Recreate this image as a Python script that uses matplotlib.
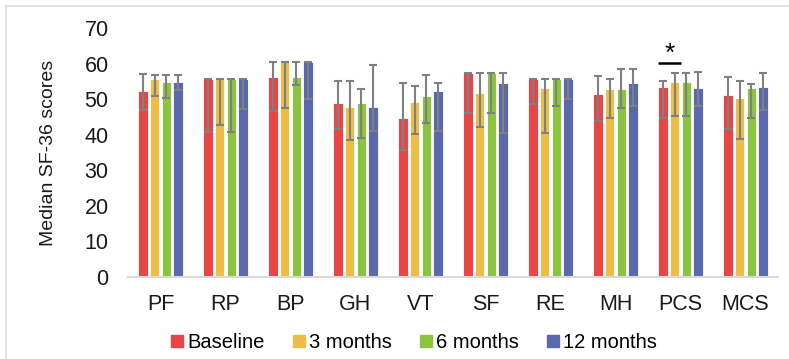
import matplotlib
matplotlib.use("Agg")
import matplotlib.pyplot as plt
from matplotlib.lines import Line2D
import numpy as np

plt.rcParams['font.family'] = ['Liberation Sans', 'DejaVu Sans']

categories = ["PF", "RP", "BP", "GH", "VT", "SF", "RE", "MH", "PCS", "MCS"]
series_names = ["Baseline", "3 months", "6 months", "12 months"]

baseline = [52.4, 55.7, 56.1, 48.8, 44.7, 57.4, 55.7, 51.5, 53.4, 51.3]
months3 = [55.7, 55.7, 60.4, 47.7, 49.3, 51.8, 53.1, 52.9, 54.9, 50.3]
months6 = [54.7, 55.7, 56.1, 48.8, 50.8, 57.4, 55.7, 52.9, 54.7, 53.1]
months12 = [54.7, 55.7, 60.4, 47.7, 52.3, 54.6, 55.7, 54.4, 53.2, 53.5]

# interquartile range limits (upper, lower) per series
baseline_hi = [57.0, 55.7, 60.4, 55.2, 54.6, 57.4, 55.7, 56.5, 55.0, 56.1]
baseline_lo = [47.0, 40.7, 46.7, 41.7, 35.6, 46.2, 48.6, 43.9, 44.7, 41.7]
months3_hi = [56.8, 55.7, 60.4, 55.2, 53.8, 57.4, 55.7, 55.7, 57.3, 55.2]
months3_lo = [50.9, 42.6, 47.6, 38.4, 40.2, 42.1, 40.6, 44.6, 45.4, 38.8]
months6_hi = [56.9, 55.7, 60.4, 52.8, 56.9, 57.4, 55.7, 58.6, 57.4, 54.3]
months6_lo = [50.2, 40.9, 54.0, 39.1, 43.3, 46.2, 48.1, 47.4, 45.3, 44.7]
months12_hi = [56.9, 55.7, 60.4, 59.5, 54.6, 57.4, 55.7, 58.6, 57.7, 57.3]
months12_lo = [52.6, 47.1, 50.0, 41.0, 41.0, 40.6, 50.0, 48.0, 48.2, 47.0]

values = [baseline, months3, months6, months12]
highs = [baseline_hi, months3_hi, months6_hi, months12_hi]
lows = [baseline_lo, months3_lo, months6_lo, months12_lo]
colors = ["#E84545", "#EDBD45", "#8BC43F", "#5A68AD"]

fig = plt.figure(figsize=(7.89, 3.59), dpi=100)
ax = fig.add_axes([128 / 789, 1 - 277 / 359, 650 / 789, 249 / 359])

x = np.arange(len(categories))
step = 0.18
width = 0.145
for i, (vals, hi, lo, c) in enumerate(zip(values, highs, lows, colors)):
    pos = x + (i - 1.5) * step
    ax.bar(pos, vals, width=width, color=c, edgecolor="white", linewidth=0.6,
           label=series_names[i], zorder=2)
    v = np.array(vals)
    err = np.vstack([v - np.array(lo), np.array(hi) - v])
    ax.errorbar(pos, v, yerr=err, fmt="none", ecolor="#808080",
                elinewidth=1.5, capsize=3, capthick=1.5, zorder=3)

# significance marker between baseline and 3 months for PCS
pcs = categories.index("PCS")
x0 = pcs - 1.5 * step - width / 2 - 0.01
x1 = pcs - 0.5 * step + width / 2 + 0.03
ax.plot([x0, x1], [60.1, 60.1], color="black", lw=1.8, solid_capstyle="butt", zorder=4)
ax.text((x0 + x1) / 2, 59.3, "*", ha="center", va="bottom", fontsize=19, color="black")

ax.set_xlim(-0.5, len(categories) - 0.5)
ax.set_ylim(0, 70)
ax.set_yticks(range(0, 71, 10))
ax.set_xticks(x)
ax.set_xticklabels(categories)
for s in ["top", "right", "left"]:
    ax.spines[s].set_visible(False)
ax.spines["bottom"].set_color("#d9d9d9")
ax.spines["bottom"].set_linewidth(1.5)
ax.tick_params(axis="both", length=0, labelsize=15.5, colors="#1a1a1a")
ax.tick_params(axis="y", pad=14)
ax.tick_params(axis="x", pad=12)
ax.set_ylabel("Median SF-36 scores", fontsize=14, color="#1a1a1a", labelpad=20)

handles = [Line2D([], [], marker="s", linestyle="none", markersize=8,
                  markerfacecolor=c, markeredgecolor=c) for c in colors]
fig.legend(handles, series_names, loc="center", bbox_to_anchor=(413 / 789, 1 - 343 / 359),
           ncol=4, frameon=False, fontsize=14.5, handletextpad=0.1, columnspacing=1.3,
           handlelength=0.8)

# thin light frame along the top and left edges
fig.add_artist(Line2D([6 / 789, 1], [1 - 6 / 359, 1 - 6 / 359], color="#e3e3e3", lw=1.5))
fig.add_artist(Line2D([6 / 789, 6 / 789], [0, 1 - 6 / 359], color="#e3e3e3", lw=1.5))

fig.savefig("out.png", dpi=100)
